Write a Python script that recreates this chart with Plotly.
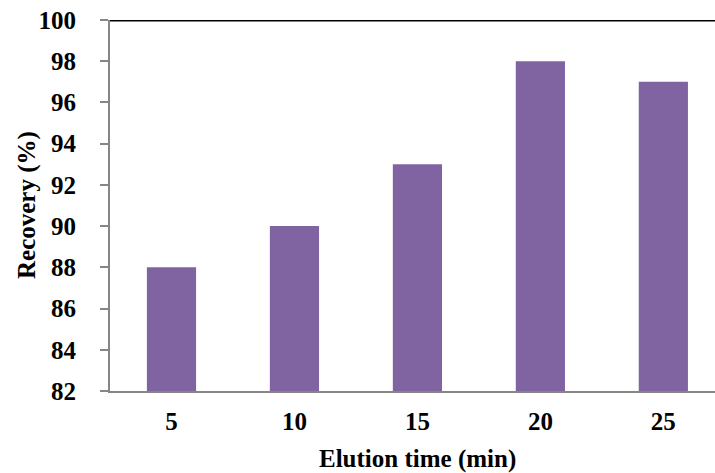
import plotly.graph_objects as go

categories = ["5", "10", "15", "20", "25"]
recovery = [88, 90, 93, 98, 97]
y_ticks = [82, 84, 86, 88, 90, 92, 94, 96, 98, 100]

FONT = "Liberation Serif, Times New Roman, serif"
FS = 25

fig = go.Figure(go.Bar(
    x=categories, y=recovery,
    marker=dict(color="#8064A2", line=dict(width=0)),
    width=0.4,
))

fig.update_layout(
    width=715, height=473,
    margin=dict(l=110, r=0, t=20, b=82, autoexpand=False),
    paper_bgcolor="white", plot_bgcolor="white",
    showlegend=False,
    font=dict(family=FONT, size=FS, color="black", weight="bold"),
)
fig.update_xaxes(
    type="category", range=[-0.5, 4.42],
    showline=True, linecolor="#868686", linewidth=2,
    ticks="", ticklabelstandoff=7,
    showgrid=False, zeroline=False,
    tickfont=dict(family=FONT, size=FS, weight="bold"),
)
fig.update_yaxes(
    range=[82, 100], tickvals=y_ticks,
    showline=True, linecolor="#868686", linewidth=2,
    ticks="outside", ticklen=8, tickcolor="#868686", tickwidth=2,
    ticklabelstandoff=19,
    showgrid=False, zeroline=False,
    tickfont=dict(family=FONT, size=FS, weight="bold"),
)
fig.add_shape(type="line", xref="paper", yref="y", x0=0, x1=1, y0=100, y1=100,
              line=dict(color="black", width=3), layer="above")
fig.add_annotation(text="Elution time (min)", xref="paper", yref="paper",
                   x=(417 - 110) / 605, y=-(459 - 391) / 371, showarrow=False,
                   xanchor="center", yanchor="middle",
                   font=dict(family=FONT, size=FS, weight="bold"))
fig.add_annotation(text="Recovery (%)", xref="paper", yref="paper",
                   x=-(110 - 27) / 605, y=(391 - 205) / 371, showarrow=False,
                   xanchor="center", yanchor="middle", textangle=-90,
                   font=dict(family=FONT, size=FS, weight="bold"))

fig.write_html("out.html", config={"displayModeBar": False},
               post_script="document.body.style.margin='0px';document.body.style.overflow='hidden';")
